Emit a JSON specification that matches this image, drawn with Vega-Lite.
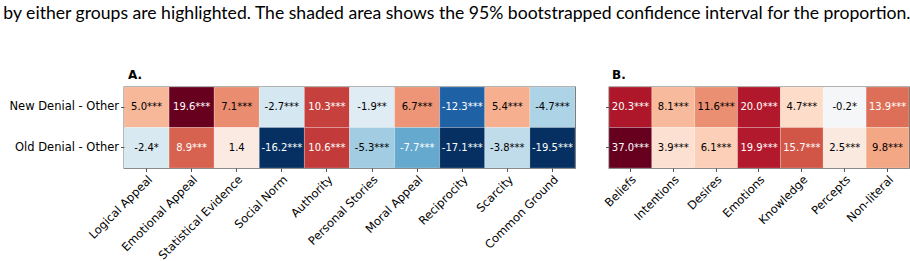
{
  "$schema": "https://vega.github.io/schema/vega-lite/v6.json",
  "background": "white",
  "padding": {"left": 3, "top": 4, "right": 0, "bottom": 0},
  "title": {
    "text": "by either groups are highlighted. The shaded area shows the 95% bootstrapped confidence interval for the proportion.",
    "anchor": "start",
    "frame": "bounds",
    "font": "Lato",
    "fontSize": 17.6,
    "fontWeight": "normal",
    "color": "#000000",
    "offset": 46,
    "dx": 0
  },
  "config": {
    "font": "DejaVu Sans",
    "view": {"stroke": "#555555", "strokeWidth": 1.3},
    "axis": {
      "labelFont": "DejaVu Sans",
      "labelFontSize": 11.5,
      "labelColor": "#000000",
      "tickColor": "#555555",
      "tickSize": 3.5,
      "domain": false,
      "grid": false,
      "title": null
    }
  },
  "datasets": {
    "strategies": [
      {"row": "New Denial - Other", "cat": "Logical Appeal", "v": 5.0, "sig": "***"},
      {"row": "New Denial - Other", "cat": "Emotional Appeal", "v": 19.6, "sig": "***"},
      {"row": "New Denial - Other", "cat": "Statistical Evidence", "v": 7.1, "sig": "***"},
      {"row": "New Denial - Other", "cat": "Social Norm", "v": -2.7, "sig": "***"},
      {"row": "New Denial - Other", "cat": "Authority", "v": 10.3, "sig": "***"},
      {"row": "New Denial - Other", "cat": "Personal Stories", "v": -1.9, "sig": "**"},
      {"row": "New Denial - Other", "cat": "Moral Appeal", "v": 6.7, "sig": "***"},
      {"row": "New Denial - Other", "cat": "Reciprocity", "v": -12.3, "sig": "***"},
      {"row": "New Denial - Other", "cat": "Scarcity", "v": 5.4, "sig": "***"},
      {"row": "New Denial - Other", "cat": "Common Ground", "v": -4.7, "sig": "***"},
      {"row": "Old Denial - Other", "cat": "Logical Appeal", "v": -2.4, "sig": "*"},
      {"row": "Old Denial - Other", "cat": "Emotional Appeal", "v": 8.9, "sig": "***"},
      {"row": "Old Denial - Other", "cat": "Statistical Evidence", "v": 1.4, "sig": ""},
      {"row": "Old Denial - Other", "cat": "Social Norm", "v": -16.2, "sig": "***"},
      {"row": "Old Denial - Other", "cat": "Authority", "v": 10.6, "sig": "***"},
      {"row": "Old Denial - Other", "cat": "Personal Stories", "v": -5.3, "sig": "***"},
      {"row": "Old Denial - Other", "cat": "Moral Appeal", "v": -7.7, "sig": "***"},
      {"row": "Old Denial - Other", "cat": "Reciprocity", "v": -17.1, "sig": "***"},
      {"row": "Old Denial - Other", "cat": "Scarcity", "v": -3.8, "sig": "***"},
      {"row": "Old Denial - Other", "cat": "Common Ground", "v": -19.5, "sig": "***"}
    ],
    "mental": [
      {"row": "New Denial - Other", "cat": "Beliefs", "v": 20.3, "sig": "***"},
      {"row": "New Denial - Other", "cat": "Intentions", "v": 8.1, "sig": "***"},
      {"row": "New Denial - Other", "cat": "Desires", "v": 11.6, "sig": "***"},
      {"row": "New Denial - Other", "cat": "Emotions", "v": 20.0, "sig": "***"},
      {"row": "New Denial - Other", "cat": "Knowledge", "v": 4.7, "sig": "***"},
      {"row": "New Denial - Other", "cat": "Percepts", "v": -0.2, "sig": "*"},
      {"row": "New Denial - Other", "cat": "Non-literal", "v": 13.9, "sig": "***"},
      {"row": "Old Denial - Other", "cat": "Beliefs", "v": 37.0, "sig": "***"},
      {"row": "Old Denial - Other", "cat": "Intentions", "v": 3.9, "sig": "***"},
      {"row": "Old Denial - Other", "cat": "Desires", "v": 6.1, "sig": "***"},
      {"row": "Old Denial - Other", "cat": "Emotions", "v": 19.9, "sig": "***"},
      {"row": "Old Denial - Other", "cat": "Knowledge", "v": 15.7, "sig": "***"},
      {"row": "Old Denial - Other", "cat": "Percepts", "v": 2.5, "sig": "***"},
      {"row": "Old Denial - Other", "cat": "Non-literal", "v": 9.8, "sig": "***"}
    ]
  },
  "hconcat": [
    {
      "title": {"text": "A.", "font": "DejaVu Sans", "fontSize": 12, "fontWeight": "bold", "anchor": "start", "frame": "group", "offset": 5, "dx": 4, "color": "#000000"},
      "width": 451,
      "height": 81,
      "data": {"name": "strategies"},
      "transform": [{"calculate": "(datum.v < 0 ? '-' : '') + format(abs(datum.v), '.1f') + datum.sig", "as": "label"}],
      "encoding": {
        "x": {
          "field": "cat", "type": "nominal", "sort": null,
          "scale": {"paddingInner": 0, "paddingOuter": 0},
          "axis": {"labelAngle": -45, "labelAlign": "right", "labelBaseline": "top", "labelPadding": 2, "labelFontSize": 11.5, "labelFont": "DejaVu Sans"}
        },
        "y": {
          "field": "row", "type": "nominal", "sort": null,
          "scale": {"paddingInner": 0, "paddingOuter": 0},
          "axis": {"labelPadding": 2, "labelFontSize": 11.5, "labelFont": "DejaVu Sans", "minExtent": 120, "maxExtent": 120}
        }
      },
      "layer": [
        {
          "mark": {"type": "rect", "stroke": "#ffffff", "strokeWidth": 0.4, "strokeOpacity": 0.5},
          "encoding": {
            "color": {
              "field": "v", "type": "quantitative", "legend": null,
              "scale": {
                "domain": [-15, -12, -9, -6, -3, 0, 3, 6, 9, 12, 15],
                "range": ["#053061", "#2166ac", "#4393c3", "#92c5de", "#d1e5f0", "#f7f7f7", "#fddbc7", "#f4a582", "#d6604d", "#b2182b", "#67001f"],
                "interpolate": "rgb",
                "clamp": true
              }
            }
          }
        },
        {
          "mark": {"type": "text", "fontSize": 10, "font": "DejaVu Sans"},
          "encoding": {
            "text": {"field": "label"},
            "color": {"condition": {"test": "abs(datum.v) > 7.5", "value": "#ffffff"}, "value": "#000000"}
          }
        }
      ]
    },
    {
      "title": {"text": "B.", "font": "DejaVu Sans", "fontSize": 12, "fontWeight": "bold", "anchor": "start", "frame": "group", "offset": 5, "dx": 3, "color": "#000000"},
      "width": 300,
      "height": 81,
      "data": {"name": "mental"},
      "transform": [{"calculate": "(datum.v < 0 ? '-' : '') + format(abs(datum.v), '.1f') + datum.sig", "as": "label"}],
      "encoding": {
        "x": {
          "field": "cat", "type": "nominal", "sort": null,
          "scale": {"paddingInner": 0, "paddingOuter": 0},
          "axis": {"labelAngle": -45, "labelAlign": "right", "labelBaseline": "top", "labelPadding": 2, "labelFontSize": 11.5, "labelFont": "DejaVu Sans"}
        },
        "y": {
          "field": "row", "type": "nominal", "sort": null,
          "scale": {"paddingInner": 0, "paddingOuter": 0},
          "axis": {"labels": false}
        }
      },
      "layer": [
        {
          "mark": {"type": "rect", "stroke": "#ffffff", "strokeWidth": 0.4, "strokeOpacity": 0.5},
          "encoding": {
            "color": {
              "field": "v", "type": "quantitative", "legend": null,
              "scale": {
                "domain": [-25, -20, -15, -10, -5, 0, 5, 10, 15, 20, 25],
                "range": ["#053061", "#2166ac", "#4393c3", "#92c5de", "#d1e5f0", "#f7f7f7", "#fddbc7", "#f4a582", "#d6604d", "#b2182b", "#67001f"],
                "interpolate": "rgb",
                "clamp": true
              }
            }
          }
        },
        {
          "mark": {"type": "text", "fontSize": 10, "font": "DejaVu Sans"},
          "encoding": {
            "text": {"field": "label"},
            "color": {"condition": {"test": "abs(datum.v) > 12.5", "value": "#ffffff"}, "value": "#000000"}
          }
        }
      ]
    }
  ],
  "spacing": 26,
  "resolve": {"scale": {"color": "independent", "x": "independent", "y": "independent"}}
}
